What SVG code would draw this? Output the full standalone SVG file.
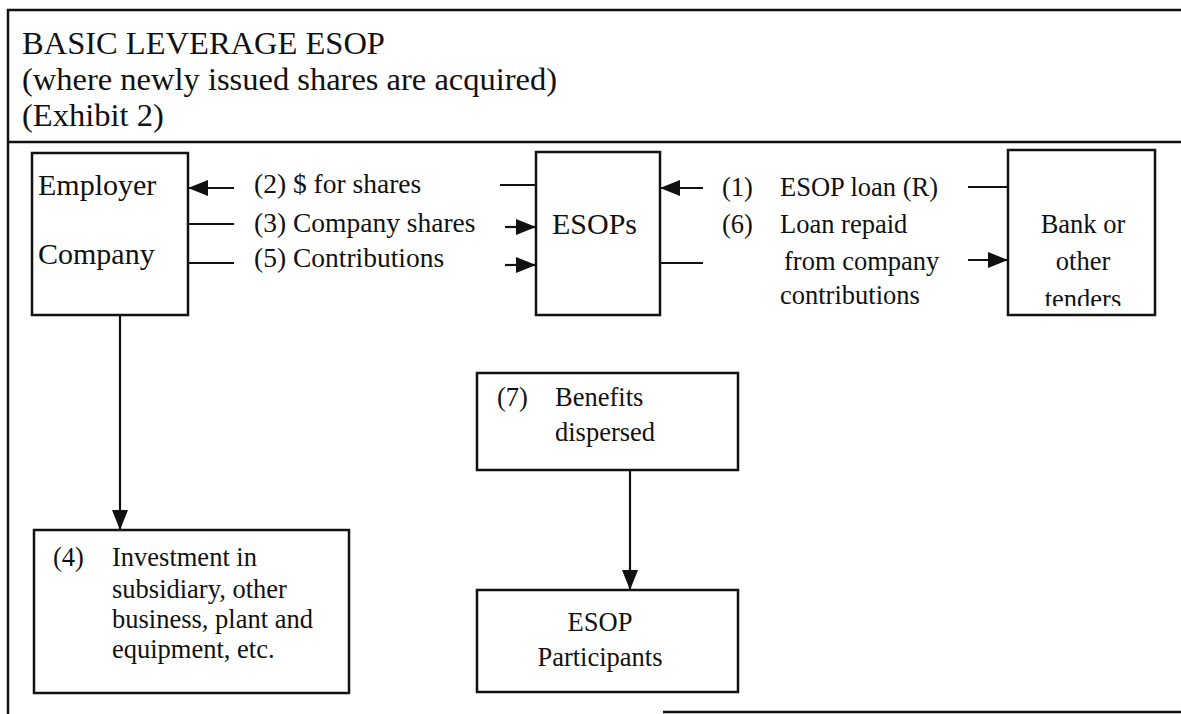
<svg xmlns="http://www.w3.org/2000/svg" width="1181" height="714" viewBox="0 0 1181 714">
<style>
  text { font-family: "Liberation Serif", "Times New Roman", serif; fill: #111; }
  .title { font-size: 32.5px; }
  .t { font-size: 26.5px; }
  .tl { font-size: 27.5px; }
  .tb { font-size: 30px; }
  .mid { text-anchor: middle; }
  .box { fill: #fff; stroke: #111; stroke-width: 2.5; }
  .frame { fill: none; stroke: #111; stroke-width: 2.5; }
  .conn { fill: none; stroke: #111; stroke-width: 2.2; }
</style>
<defs>
  <marker id="ah" markerUnits="userSpaceOnUse" markerWidth="22" markerHeight="18" refX="20" refY="8" orient="auto">
    <path d="M0,0 L20,8 L0,16 z" fill="#111"/>
  </marker>
  <clipPath id="bankclip"><rect x="1008" y="150" width="148" height="156"/></clipPath>
</defs>
<rect width="1181" height="714" fill="#fff"/>

<g id="frame">
  <path class="frame" d="M8,714 V10 H1181"/>
  <path class="frame" d="M8,142 H1181"/>
  <path class="frame" d="M663,712 H1181"/>
  <text class="title" x="22" y="54">BASIC LEVERAGE ESOP</text>
  <text class="title" x="22" y="90">(where newly issued shares are acquired)</text>
  <text class="title" x="22" y="126">(Exhibit 2)</text>
</g>

<g id="connectors">
  <path class="conn" d="M536,185 H500"/>
  <path class="conn" d="M234,188 H188" marker-end="url(#ah)"/>
  <path class="conn" d="M188,224 H234"/>
  <path class="conn" d="M505,227 H536" marker-end="url(#ah)"/>
  <path class="conn" d="M188,263 H234"/>
  <path class="conn" d="M505,265 H536" marker-end="url(#ah)"/>
  <path class="conn" d="M1008,187 H968"/>
  <path class="conn" d="M703,188 H660" marker-end="url(#ah)"/>
  <path class="conn" d="M660,263 H703"/>
  <path class="conn" d="M968,260 H1008" marker-end="url(#ah)"/>
  <path class="conn" d="M120,315 V530" marker-end="url(#ah)"/>
  <path class="conn" d="M630,470 V590" marker-end="url(#ah)"/>
  <text class="tl" x="254" y="193">(2) $ for shares</text>
  <text class="tl" x="254" y="232">(3) Company shares</text>
  <text class="tl" x="254" y="267">(5) Contributions</text>
  <text class="t" x="722" y="196">(1)</text>
  <text class="t" x="780" y="196">ESOP loan (R)</text>
  <text class="t" x="722" y="233">(6)</text>
  <text class="t" x="780" y="233">Loan repaid</text>
  <text class="t" x="784" y="270">from company</text>
  <text class="t" x="780" y="304">contributions</text>
</g>

<g id="employer">
  <rect class="box" x="32" y="153" width="156" height="162"/>
  <text class="tb" x="38" y="195">Employer</text>
  <text class="tb" x="38" y="264">Company</text>
</g>

<g id="esops">
  <rect class="box" x="536" y="152" width="124" height="163"/>
  <text class="tb" x="552" y="234">ESOPs</text>
</g>

<g id="bank">
  <rect class="box" x="1008" y="150" width="147" height="165"/>
  <text class="t mid" x="1083" y="233">Bank or</text>
  <text class="t mid" x="1083" y="270">other</text>
  <text class="t mid" x="1083" y="308" clip-path="url(#bankclip)">tenders</text>
</g>

<g id="investment">
  <rect class="box" x="34" y="530" width="315" height="163"/>
  <text class="t" x="53" y="566">(4)</text>
  <text class="t" x="112" y="566">Investment in</text>
  <text class="t" x="112" y="598">subsidiary, other</text>
  <text class="t" x="112" y="628">business, plant and</text>
  <text class="t" x="112" y="658">equipment, etc.</text>
</g>

<g id="benefits">
  <rect class="box" x="477" y="373" width="261" height="97"/>
  <text class="t" x="497" y="406">(7)</text>
  <text class="t" x="555" y="406">Benefits</text>
  <text class="t" x="555" y="441">dispersed</text>
</g>

<g id="participants">
  <rect class="box" x="477" y="590" width="261" height="102"/>
  <text class="t mid" x="600" y="631">ESOP</text>
  <text class="t mid" x="600" y="666">Participants</text>
</g>
</svg>
